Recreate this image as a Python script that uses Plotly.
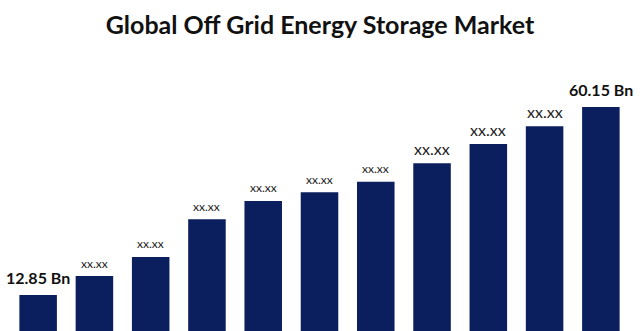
import plotly.graph_objects as go

# Market size by year (USD billion); only the first and last years are published
years = ["2023", "2024", "2025", "2026", "2027", "2028", "2029", "2030", "2031", "2032", "2033"]
values = [12.85, 17.6, 22.4, 31.9, 36.5, 38.7, 41.3, 46.0, 50.8, 55.3, 60.15]
labels = ["12.85 Bn", "xx.xx", "xx.xx", "xx.xx", "xx.xx", "xx.xx", "xx.xx",
          "xx.xx", "xx.xx", "xx.xx", "60.15 Bn"]

BAR_COLOR = "#0b1f5e"

fig = go.Figure(
    go.Bar(
        x=years,
        y=values,
        marker=dict(color=BAR_COLOR, line=dict(width=0)),
        hoverinfo="skip",
    )
)

# Value labels above each bar (placed by category index)
for i, (v, lab) in enumerate(zip(values, labels)):
    if lab.endswith("Bn"):
        font = dict(family="Lato", size=16, color="#111111", weight="bold")
        shift = 17
    elif i >= 7:
        font = dict(family="Lato", size=16, color="#222222")
        shift = 15
    else:
        font = dict(family="Lato", size=12, color="#222222")
        shift = 13
    fig.add_annotation(
        x=i, y=v, text=lab, showarrow=False,
        xanchor="center", yanchor="middle", yshift=shift, font=font,
    )

fig.update_layout(
    width=640,
    height=331,
    margin=dict(l=10, r=11, t=60, b=0),
    paper_bgcolor="white",
    plot_bgcolor="white",
    bargap=0.333,
    showlegend=False,
    title=dict(
        text="Global Off Grid Energy Storage Market",
        x=0.5, xref="container", xanchor="center",
        y=1 - 25 / 331, yref="container", yanchor="middle",
        font=dict(family="Lato", size=25, color="#111111", weight="bold"),
    ),
    xaxis=dict(type="category", range=[-0.5, len(years) - 0.5],
               showticklabels=False, showgrid=False,
               zeroline=False, showline=False, ticks=""),
    yaxis=dict(range=[3.77, 71.95], showticklabels=False, showgrid=False,
               zeroline=False, showline=False, ticks=""),
)

fig.write_html("out.html")
